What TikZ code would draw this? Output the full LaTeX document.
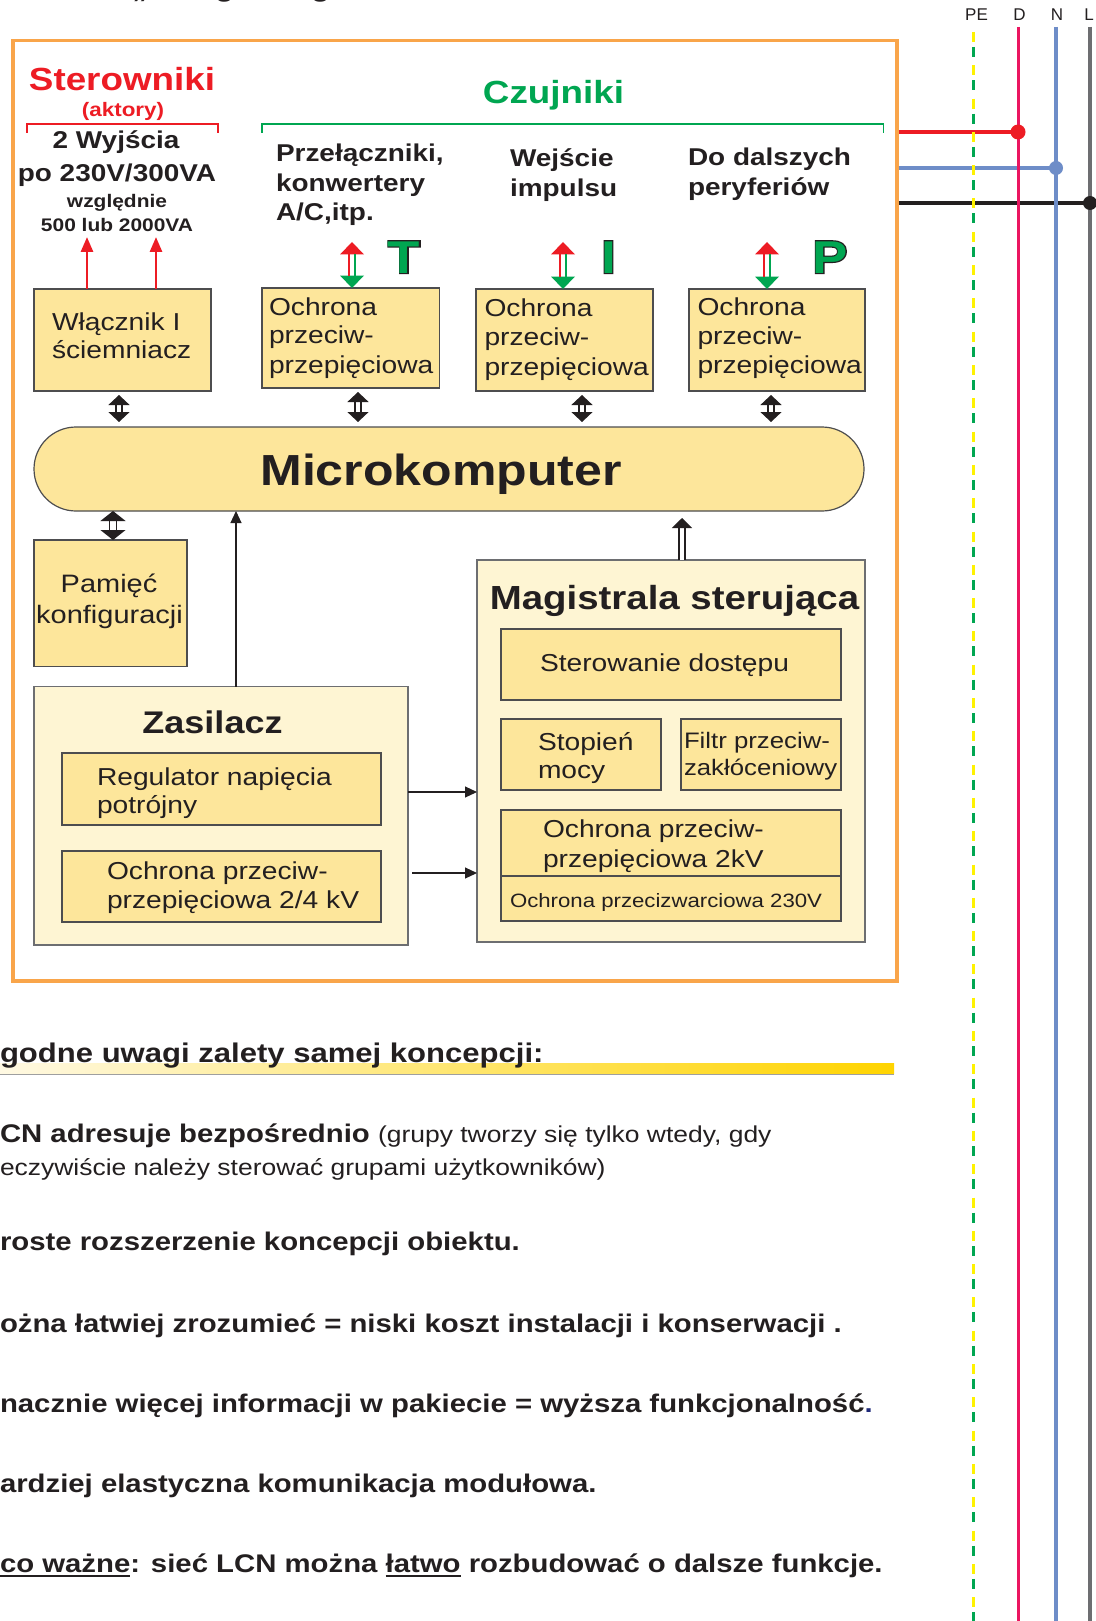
\documentclass[tikz,border=0pt]{standalone}
\usepackage{fontspec}
\setmainfont{Liberation Sans}[FakeStretch=1.15]
\newfontfamily\lblfont{Liberation Sans}
\newfontfamily\tipfont{Liberation Sans Bold}[FakeStretch=1.15]
\newfontfamily\tipdark{Liberation Sans Bold}[FakeStretch=1.15,FakeBold=5]
\usetikzlibrary{arrows.meta,calc}
\newcommand\fsz[1]{\fontsize{#1}{#1}\selectfont}
\newsavebox\ulbox
\newcommand\myul[1]{\sbox\ulbox{#1}\rlap{\rule[-4.8pt]{\wd\ulbox}{1.6pt}}\usebox\ulbox}
\definecolor{boxfill}{HTML}{FDE69B}
\definecolor{boxlight}{HTML}{FEF5D3}
\definecolor{boxline}{HTML}{4D4D4F}
\definecolor{panelline}{HTML}{6D6E71}
\definecolor{frameor}{HTML}{F9A54A}
\definecolor{redc}{HTML}{ED1C24}
\definecolor{greenc}{HTML}{00A651}
\definecolor{txtc}{HTML}{231F20}
\definecolor{wireD}{HTML}{EB1660}
\definecolor{wireN}{HTML}{6E8DC8}
\definecolor{wireL}{HTML}{6D6E71}
\definecolor{peY}{HTML}{FFF200}
\definecolor{barY}{HTML}{FFD400}
\definecolor{barL}{HTML}{FFF9E3}
\definecolor{navyc}{HTML}{1F2A7A}
\newcommand\rgarrow[2]{%
  \path (#2 |- #1.north) coordinate (rgb);
  \fill[greenc] (rgb) -- ++(-12,-12.5) -- ++(24,0) -- cycle;
  \fill[redc] (#2) -- ++(-12,12.5) -- ++(24,0) -- cycle;
  \draw[redc, line width=2.3pt] ($(#2)+(-3.2,12)$) -- ($(rgb)+(-3.2,-12)$);
  \draw[greenc, line width=2.3pt] ($(#2)+(3.2,12)$) -- ($(rgb)+(3.2,-12)$);
}
\begin{document}
\begin{tikzpicture}[x=1pt,y=-1pt,
  txt/.style={inner sep=0pt, outer sep=0pt, text=txtc, anchor=base west},
  ctxt/.style={txt, anchor=base},
  box/.style={draw=boxline, line width=1.2pt, fill=boxfill, inner sep=0pt, outer sep=0pt, anchor=north west},
  panel/.style={box, fill=boxlight, draw=panelline},
  dblar/.style={draw=txtc, line width=1.3pt, double=white, double distance=4.5pt},
  thinar/.style={draw=txtc, line width=1.1pt, -{Triangle[width=11pt,length=12pt]}},
]
\useasboundingbox (0,0) rectangle (1095,1621);
\fill[white] (0,0) rectangle (1095,1621);

% cut-off glyphs of a line above the picture
\node[txt, font=\bfseries\fsz{27}] (cut1) at (132,-2) {„};
\node[txt, font=\bfseries\fsz{27}] (cut2) at (215,-3) {g};
\node[txt, font=\bfseries\fsz{27}] (cut3) at (311,-3) {g};

% orange frame
\node[draw=frameor, line width=3.5pt, inner sep=0pt, minimum width=884, minimum height=940, anchor=north west] (frame) at (11,39) {};

% ---------- Sterowniki ----------
\node[ctxt, text=redc, font=\bfseries\fsz{32}] (ster) at (122,91) {Sterowniki};
\node[ctxt, text=redc, font=\bfseries\fsz{19.5}] (akt) at (123,117) {(aktory)};
\draw[redc, line width=1.3pt] (27,133) -- (27,124) -- (218,124) -- (218,133);
\node[ctxt, font=\bfseries\fsz{24.3}] (wy1) at (116,149) {2 Wyjścia};
\node[ctxt, font=\bfseries\fsz{24.3}] (wy2) at (117,182) {po 230V/300VA};
\node[ctxt, font=\bfseries\fsz{18.2}] (wy3) at (117,208) {względnie};
\node[ctxt, font=\bfseries\fsz{18.2}] (wy4) at (117,232) {500 lub 2000VA};

% ---------- Czujniki ----------
\node[ctxt, text=greenc, font=\bfseries\fsz{32}] (czu) at (553.5,104) {Czujniki};
\draw[greenc, line width=1.3pt] (262,133) -- (262,124) -- (883.5,124) -- (883.5,133);
\node[txt, font=\bfseries\fsz{24.3}] (p1a) at (276,162) {Przełączniki,};
\node[txt, font=\bfseries\fsz{24.3}] (p1b) at (276,192) {konwertery};
\node[txt, font=\bfseries\fsz{24.3}] (p1c) at (276,221) {A/C,itp.};
\node[txt, font=\bfseries\fsz{24.3}] (p2a) at (510,167) {Wejście};
\node[txt, font=\bfseries\fsz{24.3}] (p2b) at (510,197) {impulsu};
\node[txt, font=\bfseries\fsz{24.3}] (p3a) at (688,166) {Do dalszych};
\node[txt, font=\bfseries\fsz{24.3}] (p3b) at (688,196) {peryferiów};

\foreach \n/\l/\x in {tT/T/404, tI/I/608.5, tP/P/830}{
  \node[ctxt, text=txtc, font=\tipdark\fsz{46}] (\n o) at (\x,273) {\l};
  \node[ctxt, text=greenc, font=\tipfont\fsz{46}] (\n) at (\x,273) {\l};
}

% ---------- top boxes ----------
\node[box, minimum width=177, minimum height=102] (wl) at (34,289) {};
\node[txt, font=\fsz{24.5}] (wlt1) at (52,330) {Włącznik I};
\node[txt, font=\fsz{24.5}] (wlt2) at (52,358) {ściemniacz};

\node[box, minimum width=177.5, minimum height=100] (o1) at (262,288) {};
\node[txt, font=\fsz{24.5}] (o1a) at (269,315) {Ochrona};
\node[txt, font=\fsz{24.5}] (o1b) at (269,343) {przeciw-};
\node[txt, font=\fsz{24.5}] (o1c) at (269,373) {przepięciowa};

\node[box, minimum width=177, minimum height=102] (o2) at (476,289) {};
\node[txt, font=\fsz{24.5}] (o2a) at (484.5,316.5) {Ochrona};
\node[txt, font=\fsz{24.5}] (o2b) at (484.5,345) {przeciw-};
\node[txt, font=\fsz{24.5}] (o2c) at (484.5,375) {przepięciowa};

\node[box, minimum width=176, minimum height=102] (o3) at (689,289) {};
\node[txt, font=\fsz{24.5}] (o3a) at (697.5,315) {Ochrona};
\node[txt, font=\fsz{24.5}] (o3b) at (697.5,344) {przeciw-};
\node[txt, font=\fsz{24.5}] (o3c) at (697.5,373) {przepięciowa};

% red actuator arrows
\coordinate (ra1) at (87,237);
\coordinate (ra2) at (156,237);
\draw[redc, line width=2.8pt, -{Triangle[width=12pt,length=15pt]}] (ra1 |- wl.north) -- (ra1);
\draw[redc, line width=2.8pt, -{Triangle[width=12pt,length=15pt]}] (ra2 |- wl.north) -- (ra2);

% red/green sensor arrows
\coordinate (rg1) at (352,242);
\coordinate (rg2) at (563,242);
\coordinate (rg3) at (767,242);
\rgarrow{o1}{rg1}
\rgarrow{o2}{rg2}
\rgarrow{o3}{rg3}

% ---------- Microkomputer ----------
\node[box, rounded corners=42, minimum width=830, minimum height=84] (micro) at (34,427) {};
\node[ctxt, font=\bfseries\fsz{43.5}] (microt) at (441,485) {Microkomputer};

% small double arrows boxes <-> micro
\coordinate (ba1) at (119,0);
\coordinate (ba2) at (358,0);
\coordinate (ba3) at (582,0);
\coordinate (ba4) at (771,0);
\foreach \c/\b in {ba1/wl, ba2/o1, ba3/o2, ba4/o3}{
  \draw[dblar, shorten <=4pt, shorten >=5pt, {Triangle[width=21pt,length=10pt]}-{Triangle[width=21pt,length=10pt]}] (\c |- \b.south) -- (\c |- micro.north);
}

% ---------- Pamiec ----------
\node[box, minimum width=153, minimum height=126.5] (pam) at (34,540) {};
\node[ctxt, font=\fsz{25.2}] (pamt1) at (109,592) {Pamięć};
\node[ctxt, font=\fsz{25.2}] (pamt2) at (109.5,623) {konfiguracji};
\coordinate (pa) at (113,0);
\draw[dblar, double distance=6pt, {Triangle[width=25pt,length=10pt]}-{Triangle[width=25pt,length=10pt]}] (pa |- micro.south) -- (pa |- pam.north);

% ---------- Zasilacz ----------
\node[panel, minimum width=374, minimum height=258.5] (zas) at (34,686.5) {};
\node[ctxt, font=\bfseries\fsz{31.3}] (zast) at (212.5,733) {Zasilacz};
\node[box, minimum width=319, minimum height=72] (reg) at (62,753) {};
\node[txt, font=\fsz{24.5}] (reg1) at (97,785) {Regulator napięcia};
\node[txt, font=\fsz{24.5}] (reg2) at (97,813.5) {potrójny};
\node[box, minimum width=319, minimum height=71] (och24) at (62,851) {};
\node[txt, font=\fsz{24.5}] (och1) at (107,879) {Ochrona przeciw-};
\node[txt, font=\fsz{24.5}] (och2) at (107,908) {przepięciowa 2/4 kV};

\coordinate (za) at (236,0);
\draw[thinar] (za |- zas.north) -- (za |- micro.south);

% ---------- Magistrala ----------
\node[panel, minimum width=388, minimum height=382] (mag) at (477,560) {};
\node[ctxt, font=\bfseries\fsz{33.4}] (magt) at (674.5,609) {Magistrala sterująca};
\node[box, minimum width=340, minimum height=71] (ster2) at (501,629) {};
\node[txt, font=\fsz{24.5}] (stt) at (540,671) {Sterowanie dostępu};
\node[box, minimum width=160, minimum height=71] (stop) at (501,719) {};
\node[txt, font=\fsz{24.5}] (stop1) at (538,750) {Stopień};
\node[txt, font=\fsz{24.5}] (stop2) at (538,778) {mocy};
\node[box, minimum width=160, minimum height=71] (filt) at (681,719) {};
\node[txt, font=\fsz{22.4}] (fil1) at (684,748) {Filtr przeciw-};
\node[txt, font=\fsz{22.4}] (fil2) at (684,775) {zakłóceniowy};
\node[box, minimum width=340, minimum height=66] (och2k) at (501,810) {};
\node[txt, font=\fsz{24.5}] (o2k1) at (543,837) {Ochrona przeciw-};
\node[txt, font=\fsz{24.5}] (o2k2) at (543,867) {przepięciowa 2kV};
\node[box, minimum width=340, minimum height=45] (ochz) at (501,876) {};
\node[txt, font=\fsz{19.3}] (ozt) at (510,907) {Ochrona przecizwarciowa 230V};

\coordinate (ma) at (682,0);
\draw[dblar, shorten >=7pt, -{Triangle[width=20pt,length=10pt]}] (ma |- mag.north) -- (ma |- micro.south);

\coordinate (h1) at (0,792);
\coordinate (h2) at (0,873);
\draw[thinar] (zas.east |- h1) -- (mag.west |- h1);
\draw[thinar, shorten <=4pt] (zas.east |- h2) -- (mag.west |- h2);

% ---------- wires ----------
\coordinate (Dj) at (1018,132);
\coordinate (Nj) at (1056,168);
\coordinate (Lj) at (1090,203);
\draw[redc, line width=4pt] (frame.east |- Dj) -- (Dj);
\draw[wireN, line width=4pt] (frame.east |- Nj) -- (Nj);
\draw[txtc, line width=4pt] (frame.east |- Lj) -- (Lj);
\coordinate (Dt) at (1018,27); \coordinate (Db) at (1018,1625);
\coordinate (Nt) at (1056,27); \coordinate (Nb) at (1056,1625);
\coordinate (Lt) at (1090,27); \coordinate (Lb) at (1090,1625);
\coordinate (PEt) at (973,32); \coordinate (PEg) at (973,47); \coordinate (PEb) at (973,1625);
\draw[wireD, line width=3pt] (Dt) -- (Db);
\draw[wireN, line width=3.2pt] (Nt) -- (Nb);
\draw[wireL, line width=3.3pt] (Lt) -- (Lb);
\draw[peY, line width=3pt, dash pattern=on 10pt off 23.3pt] (PEt) -- (PEb);
\draw[greenc, line width=3pt, dash pattern=on 10pt off 23.3pt] (PEg) -- (PEb);
\fill[redc] (Dj) circle (7.5pt);
\fill[wireN] (Nj) circle (7pt);
\fill[txtc] (Lj) circle (7pt);
\node[ctxt, font=\lblfont\fsz{17}] (lPE) at (976.5,21) {PE};
\node[ctxt, font=\lblfont\fsz{17}] (lD) at (1019.5,21) {D};
\node[ctxt, font=\lblfont\fsz{17}] (lN) at (1057,21) {N};
\node[ctxt, font=\lblfont\fsz{17}] (lL) at (1089,21) {L};

% ---------- bottom text ----------
\shade[left color=barL, right color=barY] (0,1063) rectangle (894,1073);
\draw[gray!75, line width=1pt] (0,1074) -- (894,1074);
\node[txt, font=\bfseries\fsz{27}] (head) at (0,1062) {godne uwagi zalety samej koncepcji:};
\node[txt, font=\fsz{25.5}] (l2) at (0,1142) {{\bfseries CN adresuje bezpośrednio} {\fsz{23}(grupy tworzy się tylko wtedy, gdy}};
\node[txt, font=\fsz{23}] (l3) at (0,1175) {eczywiście należy sterować grupami użytkowników)};
\node[txt, font=\bfseries\fsz{25.5}] (l4) at (0,1250) {roste rozszerzenie koncepcji obiektu.};
\node[txt, font=\bfseries\fsz{25.5}] (l5) at (0,1332) {ożna łatwiej zrozumieć = niski koszt instalacji i konserwacji .};
\node[txt, font=\bfseries\fsz{25.5}] (l6) at (0,1412) {nacznie więcej informacji w pakiecie = wyższa funkcjonalność\textcolor{navyc}{.}};
\node[txt, font=\bfseries\fsz{25.5}] (l7) at (0,1492) {ardziej elastyczna komunikacja modułowa.};
\node[txt, font=\bfseries\fsz{25.5}] (l8) at (0,1572) {\myul{co ważne}: sieć LCN można \myul{łatwo} rozbudować o dalsze funkcje.};
\end{tikzpicture}
\end{document}
